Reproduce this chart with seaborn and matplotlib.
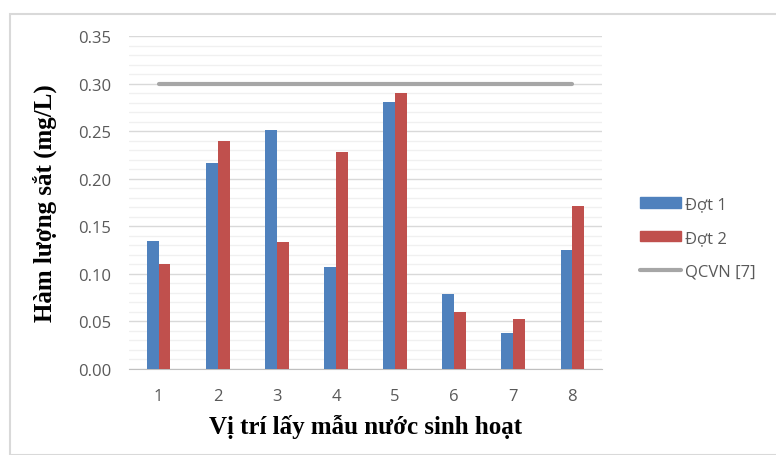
import matplotlib
matplotlib.use("Agg")
import matplotlib.pyplot as plt
from matplotlib.patches import Patch, Rectangle
from matplotlib.lines import Line2D
from matplotlib.ticker import MultipleLocator, FormatStrFormatter
import seaborn as sns
import pandas as pd

# Data
locations = ["1", "2", "3", "4", "5", "6", "7", "8"]
dot1 = [0.135, 0.217, 0.251, 0.107, 0.281, 0.079, 0.038, 0.125]
dot2 = [0.110, 0.240, 0.134, 0.228, 0.290, 0.060, 0.053, 0.171]
qcvn = [0.30] * 8

df = pd.DataFrame({
    "loc": locations * 2,
    "val": dot1 + dot2,
    "dot": ["Đợt 1"] * 8 + ["Đợt 2"] * 8,
})

sns.set_style("white")
plt.rcParams["font.family"] = ["Open Sans", "DejaVu Sans"]

fig = plt.figure(figsize=(7.76, 4.56), dpi=100)
ax = fig.add_axes([129 / 776, 1 - 370 / 456, (602 - 129) / 776, (370 - 37) / 456])

blue = "#4f81bd"
red = "#c0504d"
gray = "#a6a6a6"

sns.barplot(data=df, x="loc", y="val", hue="dot", palette=[blue, red],
            width=0.4, saturation=1, linewidth=0, ax=ax, legend=False, zorder=3)
ax.plot(range(8), qcvn, color=gray, lw=3, solid_capstyle="round", zorder=4)

ax.set_xlim(-0.5, 7.5)
ax.set_ylim(0, 0.35)
ax.yaxis.set_major_locator(MultipleLocator(0.05))
ax.yaxis.set_minor_locator(MultipleLocator(0.01))
ax.yaxis.set_major_formatter(FormatStrFormatter("%.2f"))
ax.grid(axis="y", which="major", color="#d9d9d9", lw=1, zorder=0)
ax.grid(axis="y", which="minor", color="#f0f0f0", lw=1, zorder=0)
ax.set_axisbelow(True)

for s in ["top", "right", "left"]:
    ax.spines[s].set_visible(False)
ax.spines["bottom"].set_color("#bfbfbf")

# ticks at category boundaries
ax.set_xticks([i - 0.5 for i in range(9)], minor=True)
ax.tick_params(axis="x", which="minor", length=6, color="#bfbfbf", direction="out")
ax.tick_params(axis="x", which="major", length=0, pad=14, labelsize=12, labelcolor="#595959")
ax.tick_params(axis="y", which="both", length=0, pad=13, labelsize=12, labelcolor="#595959")

ax.set_xlabel("Vị trí lấy mẫu nước sinh hoạt", family="Liberation Serif",
              fontweight="bold", fontsize=18, color="black", labelpad=7)
ax.set_ylabel("Hàm lượng sắt (mg/L)", family="Liberation Serif",
              fontweight="bold", fontsize=18, color="black", labelpad=15)

handles = [Patch(color=blue, label="Đợt 1"),
           Patch(color=red, label="Đợt 2"),
           Line2D([0], [0], color=gray, lw=3, solid_capstyle="round", label="QCVN [7]")]
leg = fig.legend(handles=handles, loc="center left", bbox_to_anchor=(0.805, 0.476),
                 frameon=False, fontsize=12, handlelength=2.5, handleheight=0.6,
                 labelspacing=1.05, handletextpad=0.2, labelcolor="#595959")

fig.patches.append(Rectangle((10 / 776, 0), 1, 1 - 15 / 456, transform=fig.transFigure,
                             fill=False, edgecolor="#d9d9d9", lw=1.5))

fig.savefig("out.png", dpi=100)
